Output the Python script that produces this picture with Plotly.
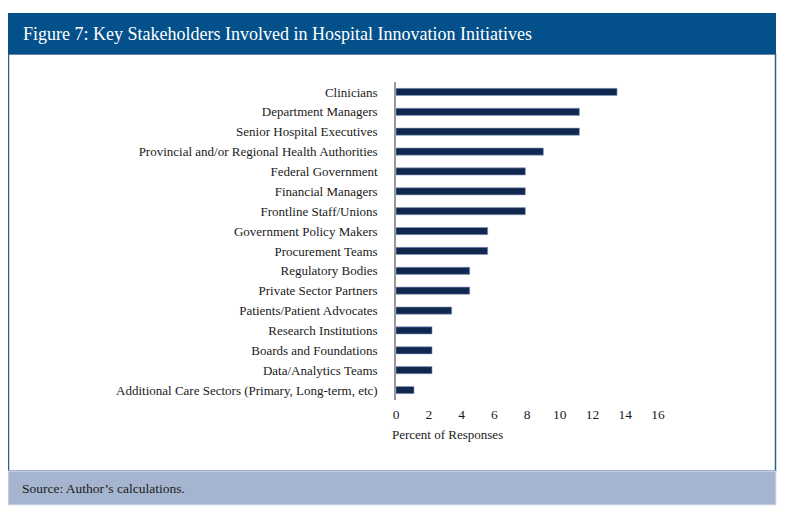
import plotly.graph_objects as go

# stakeholder groups, top of chart first
stakeholders = [
    "Clinicians",
    "Department Managers",
    "Senior Hospital Executives",
    "Provincial and/or Regional Health Authorities",
    "Federal Government",
    "Financial Managers",
    "Frontline Staff/Unions",
    "Government Policy Makers",
    "Procurement Teams",
    "Regulatory Bodies",
    "Private Sector Partners",
    "Patients/Patient Advocates",
    "Research Institutions",
    "Boards and Foundations",
    "Data/Analytics Teams",
    "Additional Care Sectors (Primary, Long-term, etc)",
]
pct_responses = [13.5, 11.2, 11.2, 9.0, 7.9, 7.9, 7.9, 5.6, 5.6, 4.5, 4.5, 3.4, 2.2, 2.2, 2.2, 1.1]
x_ticks = [0, 2, 4, 6, 8, 10, 12, 14, 16]

title_text = "Figure 7: Key Stakeholders Involved in Hospital Innovation Initiatives"
source_text = "Source: Author\u2019s calculations."

serif = "Liberation Serif, Times New Roman, serif"

fig = go.Figure()
fig.add_trace(go.Bar(
    x=pct_responses,
    y=stakeholders,
    orientation="h",
    marker=dict(color="#10284f", line=dict(color="#8a9cc0", width=0.6)),
    width=0.36,
    hoverinfo="x+y",
))

# page body adds an 8px offset, so the figure is drawn 8px smaller and shifted
OFF = 8
W, H = 800 - OFF, 527 - OFF
L, T, PW, PH = 396 - OFF, 82 - OFF, 262, 318
fig.update_layout(
    width=W, height=H,
    margin=dict(l=L, r=W - L - PW, t=T, b=H - T - PH),
    paper_bgcolor="white",
    plot_bgcolor="white",
    showlegend=False,
    font=dict(family=serif, size=13, color="#1a1a1a"),
    xaxis=dict(
        range=[0, 16], tickvals=x_ticks, showgrid=False, zeroline=False,
        showline=False, ticks="", tickfont=dict(size=13.5),
        ticklabelstandoff=4,
    ),
    yaxis=dict(
        categoryorder="array", categoryarray=stakeholders[::-1],
        range=[-0.5, len(stakeholders) - 0.5],
        showgrid=False, zeroline=False, showline=True,
        linecolor="#999999", linewidth=1.5, ticks="",
        ticklabelstandoff=14, tickfont=dict(size=13),
    ),
)

def fx(x):
    return (x - OFF - L) / PW

def fy(y):
    return (T + PH - (y - OFF)) / PH

def px(x0, y0, x1, y1):
    return dict(xref="paper", yref="paper", x0=fx(x0), x1=fx(x1), y0=fy(y0), y1=fy(y1))

# header band, chart frame and source band
fig.add_shape(type="rect", line=dict(color="#2f5f8e", width=1.5), fillcolor="white",
              layer="below", **px(8.5, 54, 775.5, 471))
fig.add_shape(type="rect", line=dict(width=0), fillcolor="#03508a", layer="below",
              **px(8, 13, 776, 54))
fig.add_shape(type="rect", line=dict(color="#dde3ee", width=1), fillcolor="#a6b5cf", layer="below",
              **px(8, 471, 776, 505))

fig.add_annotation(text=title_text, xref="paper", yref="paper",
                   x=fx(21), y=fy(34), xanchor="left", yanchor="middle", showarrow=False,
                   font=dict(family=serif, size=18, color="white"))
fig.add_annotation(text="Percent of Responses", xref="paper", yref="paper",
                   x=fx(390), y=fy(434), xanchor="left", yanchor="middle", showarrow=False,
                   font=dict(family=serif, size=13, color="#1a1a1a"))
fig.add_annotation(text=source_text, xref="paper", yref="paper",
                   x=fx(20), y=fy(488), xanchor="left", yanchor="middle", showarrow=False,
                   font=dict(family=serif, size=13.5, color="#1a1a1a"))

fig.write_html("out.html")
